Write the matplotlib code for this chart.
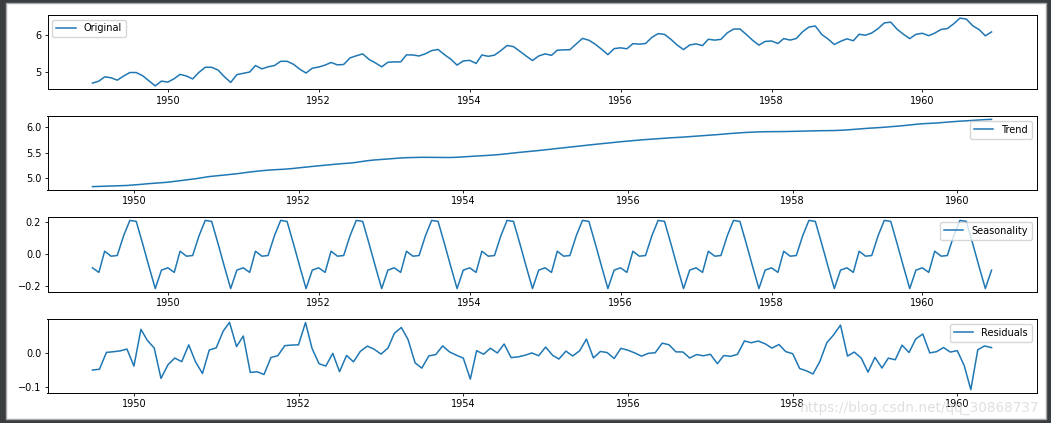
import numpy as np
import matplotlib
matplotlib.use('Agg')
import matplotlib.pyplot as plt
import matplotlib.dates as mdates
from matplotlib.patches import Rectangle

# Monthly airline passengers 1949-1960 (thousands)
passengers = [
    112, 118, 132, 129, 121, 135, 148, 148, 136, 119, 104, 118,
    115, 126, 141, 135, 125, 149, 170, 170, 158, 133, 114, 140,
    145, 150, 178, 163, 172, 178, 199, 199, 184, 162, 146, 166,
    171, 180, 193, 181, 183, 218, 230, 242, 209, 191, 172, 194,
    196, 196, 236, 235, 229, 243, 264, 272, 237, 211, 180, 201,
    204, 188, 235, 227, 234, 264, 302, 293, 259, 229, 203, 229,
    242, 233, 267, 269, 270, 315, 364, 347, 312, 274, 237, 278,
    284, 277, 317, 313, 318, 374, 413, 405, 355, 306, 271, 306,
    315, 301, 356, 348, 355, 422, 465, 467, 404, 347, 305, 336,
    340, 318, 362, 348, 363, 435, 491, 505, 404, 359, 310, 337,
    360, 342, 406, 396, 420, 472, 548, 559, 463, 407, 362, 405,
    417, 391, 419, 461, 472, 535, 622, 606, 508, 461, 390, 432,
]
start_month = '1949-01'
end_month = '1961-01'
period = 12

labels = ['Original', 'Trend', 'Seasonality', 'Residuals']
yticks = [[5, 6], [5.0, 5.5, 6.0], [-0.2, 0.0, 0.2], [-0.1, 0.0]]

# additive decomposition of the log series (as seasonal_decompose does)
dates = np.arange(start_month, end_month, dtype='datetime64[M]').astype('datetime64[D]')
ts = np.log(np.array(passengers, dtype=float))
n = len(ts)
filt = np.r_[0.5, np.ones(period - 1), 0.5] / period
trend = np.full(n, np.nan)
half = period // 2
trend[half:n - half] = np.convolve(ts, filt, mode='valid')
detr = ts - trend
pavg = np.array([np.nanmean(detr[i::period]) for i in range(period)])
pavg -= pavg.mean()
seasonal = np.tile(pavg, n // period)
resid = ts - trend - seasonal

series = [ts, trend, seasonal, resid]

W, H = 1051, 423
fig = plt.figure(figsize=(W / 100, H / 100), dpi=100)
fig.patch.set_facecolor('#3b3e41')
fig.patches.append(Rectangle((6 / W, 1 - 419 / H), 1040 / W, 416 / H,
                             transform=fig.transFigure, facecolor='white',
                             edgecolor='#a8a8a8', linewidth=1.0, zorder=-5))

fs = 7.0
plt.rcParams['font.family'] = ['DejaVu Sans']
tops = [14.7, 116, 217, 319]
bots = [89.3, 190, 292, 393]
left, right = 47.5, 1036.5
locs = ['upper left', 'upper right', 'upper right', 'upper right']

for i in range(4):
    ax = fig.add_axes([left / W, 1 - bots[i] / H, (right - left) / W, (bots[i] - tops[i]) / H])
    ax.plot(dates, series[i], color='#1f77b4', lw=1.1, label=labels[i])
    ax.set_yticks(yticks[i])
    ax.xaxis.set_major_locator(mdates.YearLocator(2))
    ax.xaxis.set_major_formatter(mdates.DateFormatter('%Y'))
    ax.tick_params(labelsize=fs, length=2.5, width=0.6, pad=2)
    for s in ax.spines.values():
        s.set_linewidth(0.7)
    ax.legend(loc=locs[i], fontsize=fs, handlelength=2.0)

fig.text(800 / W, 1 - 412 / H, 'https://blog.csdn.net/qq_30868737', fontsize=9.8,
         color='#d8d8d8', alpha=0.8, zorder=10)

fig.savefig('out.png', dpi=100, facecolor=fig.get_facecolor())
